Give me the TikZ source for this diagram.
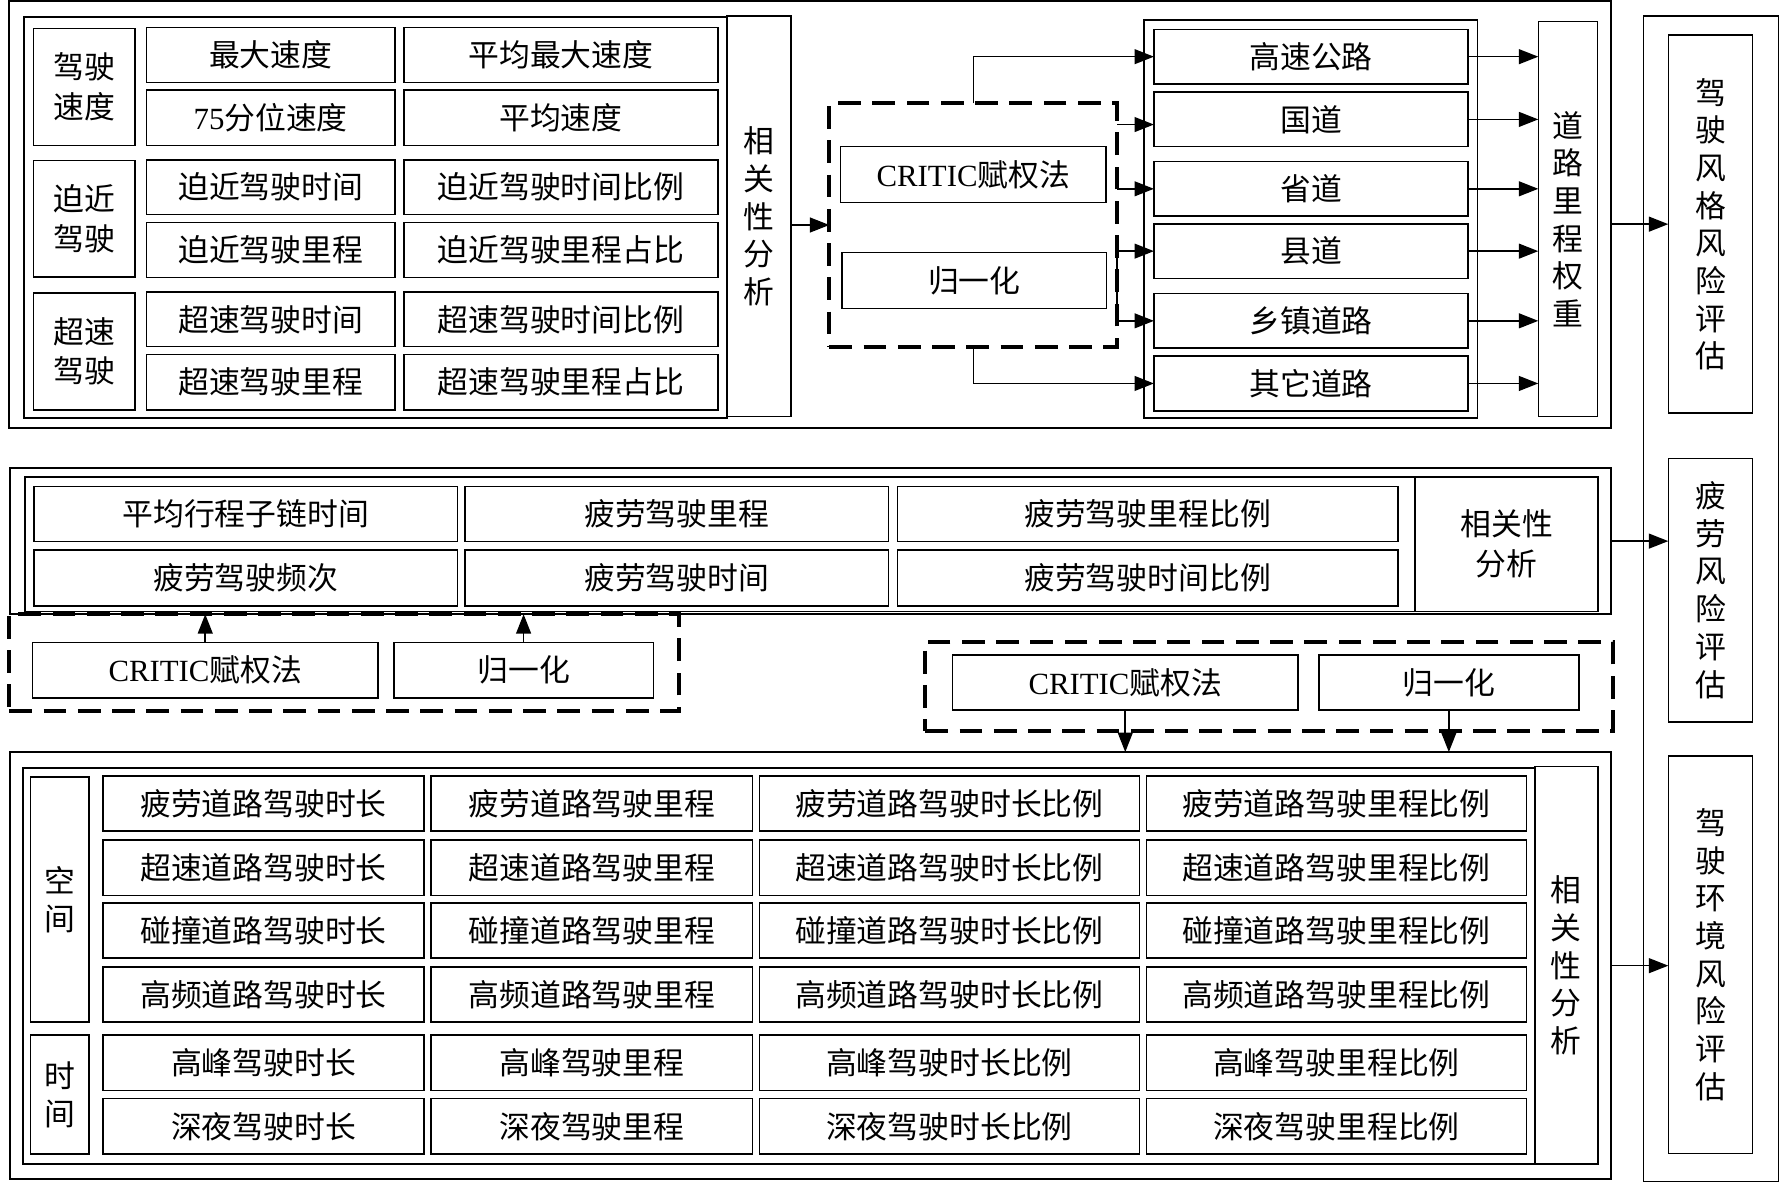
\documentclass[tikz,border=0pt]{standalone}
\usepackage{fontspec}
\setmainfont{Liberation Serif}
\newfontfamily\cjk{Noto Sans CJK SC}
\usetikzlibrary{arrows.meta,calc}
\tikzset{
  bx/.style={draw, line width=1.4pt, inner sep=0pt, outer sep=0pt, align=center,
    font={\cjk\fontsize{27}{33}\selectfont}},
  two/.style={font={\cjk\fontsize{27}{35}\selectfont}},
  dbx/.style={line width=3.5pt, dash pattern=on 20pt off 10pt},
  arr/.style={line width=1.4pt, -{Triangle[length=17pt,width=13pt]}},
  ln/.style={line width=1.4pt}
}
\newcommand{\rb}[7][]{\node[bx,#1,minimum width={#5-#3},minimum height={#6-#4}] (#2) at ({(#3+#5)/2},{(#4+#6)/2}) {#7};}
\begin{document}
\begin{tikzpicture}[x=1pt,y=-1pt]
\useasboundingbox[fill=white] (0,0) rectangle (1568,1043);
% ---------- right column ----------
\rb{rc}{1439.5}{14}{1557.8}{1035}{}
\rb{r1}{1461.4}{30.7}{1535.2}{362}{驾\\驶\\风\\格\\风\\险\\评\\估}
\rb{r2}{1461.4}{401.5}{1535.2}{632.2}{疲\\劳\\风\\险\\评\\估}
\rb{r3}{1461.4}{662}{1535.2}{1010.3}{驾\\驶\\环\\境\\风\\险\\评\\估}
% ---------- section 1 ----------
\rb{A}{8}{1}{1411}{375}{}
\rb{B}{21}{15}{637}{366}{}
\rb{c1}{637}{14}{693}{365}{相\\关\\性\\分\\析}
\rb[two]{k1}{29.5}{24.8}{118.4}{127.6}{驾驶\\速度}
\rb[two]{k2}{29.5}{140.7}{118.4}{242.9}{迫近\\驾驶}
\rb[two]{k3}{29.5}{256.4}{118.4}{359.1}{超速\\驾驶}
\rb{a11}{128.3}{24}{345.9}{72.1}{最大速度}
\rb{a12}{354}{24}{628.8}{72.1}{平均最大速度}
\rb{a21}{128.3}{78.8}{345.9}{127.6}{{\rmfamily 75}分位速度}
\rb{a22}{354}{78.8}{628.8}{127.6}{平均速度}
\rb{a31}{128.3}{139.9}{345.9}{188}{迫近驾驶时间}
\rb{a32}{354}{139.9}{628.8}{188}{迫近驾驶时间比例}
\rb{a41}{128.3}{194.8}{345.9}{243}{迫近驾驶里程}
\rb{a42}{354}{194.8}{628.8}{243}{迫近驾驶里程占比}
\rb{a51}{128.3}{255.8}{345.9}{303.7}{超速驾驶时间}
\rb{a52}{354}{255.8}{628.8}{303.7}{超速驾驶时间比例}
\rb{a61}{128.3}{310.7}{345.9}{359.1}{超速驾驶里程}
\rb{a62}{354}{310.7}{628.8}{359.1}{超速驾驶里程占比}
\rb[dbx]{d1}{726.5}{90.5}{978.7}{303.7}{}
\rb{cr1}{736.4}{128.5}{968.8}{177.5}{{\rmfamily CRITIC}赋权法}
\rb{gy1}{737.7}{221.3}{969.4}{270.4}{归一化}
\rb{RC}{1002}{17.5}{1294.4}{366.4}{}
\rb{gs}{1010.8}{25.7}{1286}{73.6}{高速公路}
\rb{gd}{1010.8}{80.7}{1286}{128.5}{国道}
\rb{sd}{1010.8}{141.6}{1286}{189.2}{省道}
\rb{xd}{1010.8}{196.2}{1286}{243.8}{县道}
\rb{xz}{1010.8}{257}{1286}{305.1}{乡镇道路}
\rb{qt}{1010.8}{311.8}{1286}{360}{其它道路}
\rb{w}{1347.5}{19}{1399.2}{365}{道\\路\\里\\程\\权\\重}
\draw[arr] (c1.east |- d1.west) -- (d1.west);
\draw[arr] (d1.north) |- (gs.west);
\draw[arr] (d1.south) |- (qt.west);
\coordinate (gdin) at ($(gd.west)+(0,4.5)$);
\draw[arr] (d1.east |- gdin) -- (gdin);
\draw[arr] (d1.east |- sd.west) -- (sd.west);
\draw[arr] (d1.east |- xd.west) -- (xd.west);
\draw[arr] (d1.east |- xd.west) -- (d1.east |- xz.west) -- (xz.west);
\foreach \n in {gs,gd,sd,xd,xz,qt} \draw[arr] (\n.east) -- (w.west |- \n.east);
\draw[arr] (A.east |- r1.west) -- (r1.west);
% ---------- section 2 ----------
\rb{S2}{8.5}{410}{1411}{538}{}
\rb{S2i}{21.8}{418}{1400}{535.5}{}
\rb{b11}{29.7}{426.3}{400.8}{474.5}{平均行程子链时间}
\rb{b12}{407.3}{426.3}{778.4}{474.5}{疲劳驾驶里程}
\rb{b13}{786.1}{426.3}{1224.4}{474.5}{疲劳驾驶里程比例}
\rb{b21}{29.7}{481.8}{400.8}{530.6}{疲劳驾驶频次}
\rb{b22}{407.3}{481.8}{778.4}{530.6}{疲劳驾驶时间}
\rb{b23}{786.1}{481.8}{1224.4}{530.6}{疲劳驾驶时间比例}
\rb[two]{c2}{1239.6}{418}{1400}{535.5}{相关性\\分析}
\draw[arr] (S2.east) -- (S2.east -| r2.west);
\rb[dbx]{d2}{8.2}{537.5}{594.4}{623}{}
\rb{cr2}{28.6}{562.7}{331}{611.5}{{\rmfamily CRITIC}赋权法}
\rb{gy2}{345}{562.7}{572.3}{611.5}{归一化}
\draw[arr] (cr2.north) -- (cr2.north |- S2.south);
\draw[arr] (gy2.north) -- (gy2.north |- S2.south);
\rb[dbx]{d3}{810.5}{562}{1412.5}{640}{}
\rb{cr3}{834.4}{573.8}{1137}{621.9}{{\rmfamily CRITIC}赋权法}
\rb{gy3}{1155.3}{573.8}{1383}{621.9}{归一化}
% ---------- section 3 ----------
\rb{S3}{9}{658.8}{1411}{1033}{}
\rb{S3i}{20}{672.7}{1344.4}{1019.7}{}
\rb{c3}{1344.4}{671.6}{1399.8}{1019.7}{相\\关\\性\\分\\析}
\rb{kj}{26.7}{680.4}{78}{895.5}{空\\间}
\rb{sj}{26.7}{906.6}{78}{1011.1}{时\\间}
\draw[arr] (cr3.south) -- (cr3.south |- S3.north);
\draw[arr] (gy3.south) -- (gy3.south |- S3.north);
\draw[arr] (S3.east) -- (S3.east -| r3.west);
% row 1
\rb{e11}{90}{679.8}{371.6}{727.9}{疲劳道路驾驶时长}
\rb{e12}{377.6}{679.8}{659.3}{727.9}{疲劳道路驾驶里程}
\rb{e13}{665.3}{679.8}{998}{727.9}{疲劳道路驾驶时长比例}
\rb{e14}{1004.2}{679.8}{1337.2}{727.9}{疲劳道路驾驶里程比例}
% row 2
\rb{e21}{90}{735.8}{371.6}{784.3}{超速道路驾驶时长}
\rb{e22}{377.6}{735.8}{659.3}{784.3}{超速道路驾驶里程}
\rb{e23}{665.3}{735.8}{998}{784.3}{超速道路驾驶时长比例}
\rb{e24}{1004.2}{735.8}{1337.2}{784.3}{超速道路驾驶里程比例}
% row 3
\rb{e31}{90}{791}{371.6}{839.4}{碰撞道路驾驶时长}
\rb{e32}{377.6}{791}{659.3}{839.4}{碰撞道路驾驶里程}
\rb{e33}{665.3}{791}{998}{839.4}{碰撞道路驾驶时长比例}
\rb{e34}{1004.2}{791}{1337.2}{839.4}{碰撞道路驾驶里程比例}
% row 4
\rb{e41}{90}{847}{371.6}{895.2}{高频道路驾驶时长}
\rb{e42}{377.6}{847}{659.3}{895.2}{高频道路驾驶里程}
\rb{e43}{665.3}{847}{998}{895.2}{高频道路驾驶时长比例}
\rb{e44}{1004.2}{847}{1337.2}{895.2}{高频道路驾驶里程比例}
% row 5
\rb{e51}{90}{906.6}{371.6}{955.4}{高峰驾驶时长}
\rb{e52}{377.6}{906.6}{659.3}{955.4}{高峰驾驶里程}
\rb{e53}{665.3}{906.6}{998}{955.4}{高峰驾驶时长比例}
\rb{e54}{1004.2}{906.6}{1337.2}{955.4}{高峰驾驶里程比例}
% row 6
\rb{e61}{90}{962.4}{371.6}{1011.1}{深夜驾驶时长}
\rb{e62}{377.6}{962.4}{659.3}{1011.1}{深夜驾驶里程}
\rb{e63}{665.3}{962.4}{998}{1011.1}{深夜驾驶时长比例}
\rb{e64}{1004.2}{962.4}{1337.2}{1011.1}{深夜驾驶里程比例}
\end{tikzpicture}
\end{document}
